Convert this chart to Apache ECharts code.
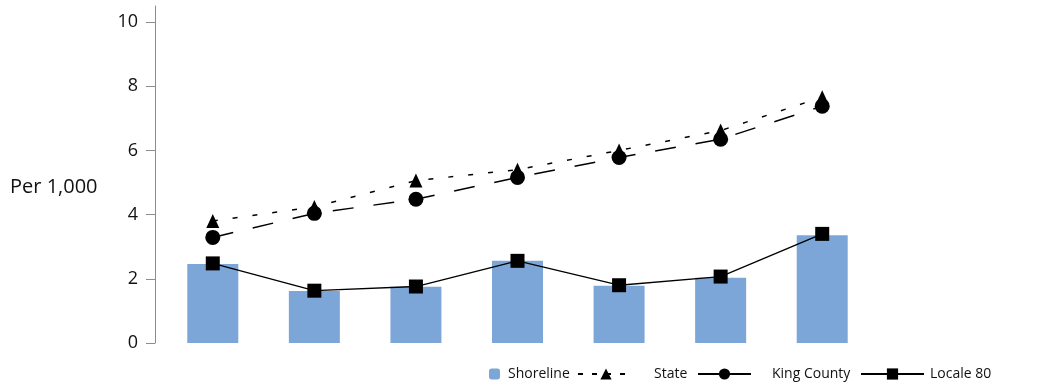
<!DOCTYPE html>
<html lang="en">
<head>
    <meta charset="UTF-8">
    <title>Per 1,000 chart</title>
    <script src="https://cdn.jsdelivr.net/npm/echarts@6/dist/echarts.min.js"></script>
    <style>
        html, body { margin: 0; padding: 0; background: #fff; }
        #chart { width: 1051px; height: 386px; }
    </style>
</head>
<body>
<div id="chart"></div>
<script type="text/javascript">
    // data
    var categories = ['1', '2', '3', '4', '5', '6', '7'];
    var shoreline  = [2.46, 1.62, 1.75, 2.56, 1.78, 2.03, 3.36];
    var state      = [3.80, 4.24, 5.06, 5.40, 6.00, 6.62, 7.66];
    var kingCounty = [3.29, 4.04, 4.48, 5.16, 5.78, 6.35, 7.38];
    var locale80   = [2.48, 1.63, 1.76, 2.56, 1.80, 2.07, 3.40];
    var yTicks     = [0, 2, 4, 6, 8, 10];

    var font = '"Open Sans", "Noto Sans", sans-serif';
    var textColor = '#111';

    // one legend per item so each icon can have its own width
    function legendFor(name, left, width, height, padLeft, dash) {
        var lg = {
            data: [name],
            left: left,
            top: 367,
            padding: 0,
            itemWidth: width,
            itemHeight: height,
            textStyle: { fontFamily: font, fontSize: 14, color: textColor, padding: [0, 0, 0, padLeft] }
        };
        if (dash) lg.lineStyle = { type: dash };
        return lg;
    }

    var chart = echarts.init(document.getElementById('chart'));

    var option = {
        animation: false,
        textStyle: { fontFamily: font },
        title: {
            text: 'Per 1,000',
            left: 5,
            top: 172,
            textStyle: { fontFamily: font, fontSize: 20, fontWeight: 'normal', color: textColor }
        },
        legend: [
            legendFor('Shoreline', 489, 11, 11, 3),
            legendFor('State', 577, 56, 14, 15, [5, 9]),
            legendFor('King County', 697, 53, 14, 16, 'solid'),
            legendFor('Locale 80', 860, 63, 14, 1)
        ],
        grid: { left: 162, right: 178, top: 6, bottom: 43 },
        xAxis: {
            type: 'category',
            data: categories,
            show: false
        },
        yAxis: {
            type: 'value',
            min: 0,
            max: 10.5,
            offset: 7,
            axisLine: { show: true, lineStyle: { color: '#8c8c8c', width: 1 } },
            axisTick: { show: true, length: 9, customValues: yTicks, lineStyle: { color: '#8c8c8c' } },
            axisLabel: { customValues: yTicks, margin: 17, fontSize: 18, color: textColor, fontFamily: font },
            splitLine: { show: false }
        },
        series: [
            {
                name: 'Shoreline',
                type: 'bar',
                data: shoreline,
                barWidth: 51,
                itemStyle: { color: '#7da6d8' }
            },
            {
                name: 'State',
                type: 'line',
                data: state,
                symbol: 'triangle',
                symbolSize: [13, 14],
                color: '#000',
                lineStyle: { color: '#000', width: 1.5, type: [5, 15] },
                itemStyle: { color: '#000' }
            },
            {
                name: 'King County',
                type: 'line',
                data: kingCounty,
                symbol: 'circle',
                symbolSize: 15,
                color: '#000',
                lineStyle: { color: '#000', width: 1.5, type: [21, 20] },
                itemStyle: { color: '#000' }
            },
            {
                name: 'Locale 80',
                type: 'line',
                data: locale80,
                symbol: 'rect',
                symbolSize: 14,
                color: '#000',
                lineStyle: { color: '#000', width: 1.3 },
                itemStyle: { color: '#000' }
            }
        ]
    };

    chart.setOption(option);
</script>
</body>
</html>
